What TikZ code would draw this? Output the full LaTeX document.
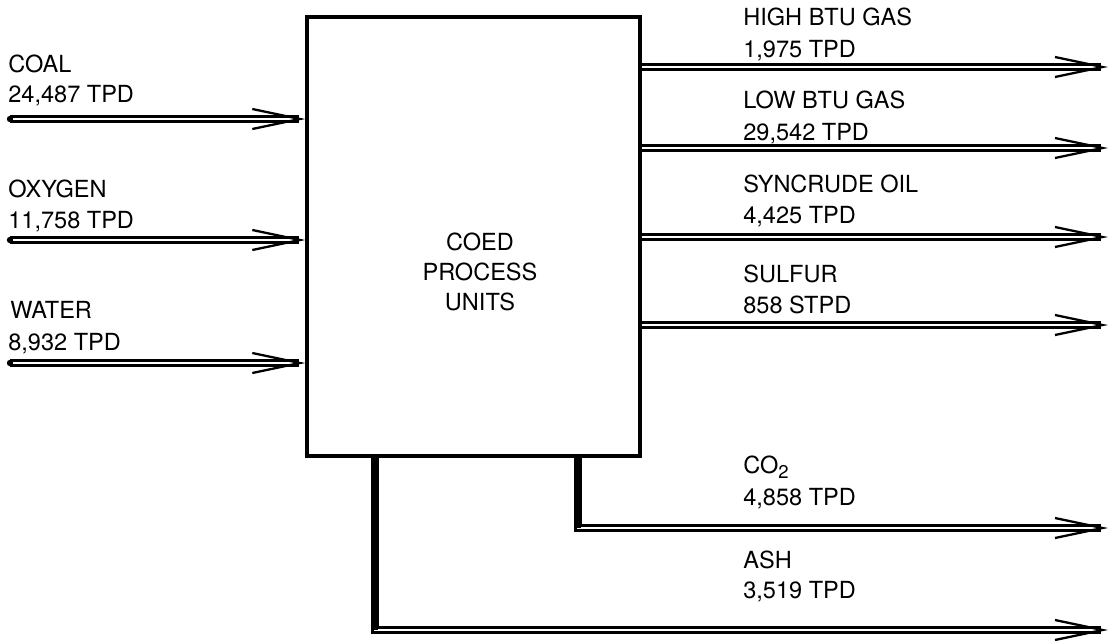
\documentclass[tikz,border=0pt]{standalone}
\usepackage{fontspec}
\setmainfont{TeX Gyre Heros}
\usetikzlibrary{arrows.meta}

\tikzset{
	flow/.style={double, double distance=1.6pt, line width=1.2pt,
		-{Straight Barb[length=0.95cm, width=0.4cm, line width=1.3pt]}},
	stem/.style={line width=3.4pt},
	lbl/.style={anchor=base west, inner sep=0pt},
	unitbox/.style={draw, line width=1.9pt, minimum width=6.66cm, minimum height=8.78cm, inner sep=0pt}
}

\begin{document}
\begin{tikzpicture}[x=0.02cm, y=-0.02cm, every node/.style={font=\fontsize{13.4}{17}\selectfont}]
			
			\useasboundingbox (0,0) rectangle (1112,640);
			
			% Process block
			\node[unitbox] (box) at (473.5,236.5) {};
			\node[align=center] (boxtxt) at (480,272) {COED\\PROCESS\\UNITS};
			
			% --- inputs ---
			\coordinate (coal)  at (10,119);
			\coordinate (oxy)   at (10,240);
			\coordinate (water) at (10,363);
			
			\node[lbl] (coal1)  at (8,72)   {COAL};
			\node[lbl] (coal2)  at (8,102)  {24,487 TPD};
			\node[lbl] (oxy1)   at (8,197)  {OXYGEN};
			\node[lbl] (oxy2)   at (8,228)  {11,758 TPD};
			\node[lbl] (water1) at (10,318) {WATER};
			\node[lbl] (water2) at (8,350)  {8,932 TPD};
			
			\foreach \s in {coal,oxy,water}{
				\draw[flow] (\s) -- (\s -| box.west);
				\fill (\s) circle (3.2);
			}
			
			% --- outputs ---
			\coordinate (hbtu) at (1108,67);
			\coordinate (lbtu) at (1108,148);
			\coordinate (oil)  at (1108,237);
			\coordinate (sulf) at (1108,325);
			\coordinate (co2)  at (1108,528);
			\coordinate (ash)  at (1108,630);
			
			\node[lbl] (hbtu1) at (743,25)  {HIGH BTU GAS};
			\node[lbl] (hbtu2) at (743,57)  {1,975 TPD};
			\node[lbl] (lbtu1) at (743,108) {LOW BTU GAS};
			\node[lbl] (lbtu2) at (743,140) {29,542 TPD};
			\node[lbl] (oil1)  at (743,192) {SYNCRUDE OIL};
			\node[lbl] (oil2)  at (743,223) {4,425 TPD};
			\node[lbl] (sulf1) at (743,282) {SULFUR};
			\node[lbl] (sulf2) at (743,313) {858 STPD};
			\node[lbl] (co21)  at (743,473) {CO\raisebox{-0.45ex}{\fontsize{10.5}{12}\selectfont 2}};
			\node[lbl] (co22)  at (743,505) {4,858 TPD};
			\node[lbl] (ash1)  at (743,568) {ASH};
			\node[lbl] (ash2)  at (743,598) {3,519 TPD};
			
			\foreach \s in {hbtu,lbtu,oil,sulf}{
				\draw[flow] (box.east |- \s) -- (\s);
			}
			
			% bottom draw-offs
			\coordinate (co2top) at (box.south -| 578,0);
			\coordinate (ashtop) at (box.south -| 375,0);
			\draw[flow] (co2top) |- (co2);
			\draw[flow] (ashtop) |- (ash);
			\draw[stem] (co2top) -- (co2top |- co2);
			\draw[stem] (ashtop) -- (ashtop |- ash);
			
		\end{tikzpicture}
\end{document}
